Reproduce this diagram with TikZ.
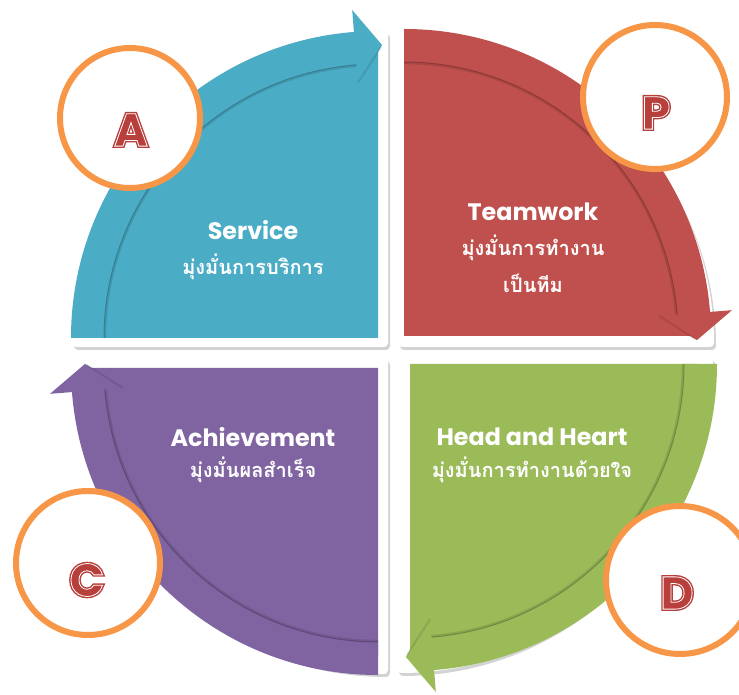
\documentclass[tikz,border=0pt]{standalone}
\usepackage{fontspec}
\newfontfamily\thaifont[Script=Thai]{Loma}
\newfontfamily\engfont{Poppins}
\newfontfamily\fatfont{Poppins}[FakeBold=8]
\usetikzlibrary{shadows}
\definecolor{cteal}{HTML}{4BACC6}
\definecolor{cred}{HTML}{C0504D}
\definecolor{cgreen}{HTML}{9BBB59}
\definecolor{cpurple}{HTML}{8064A2}
\definecolor{corange}{HTML}{F79646}
\definecolor{cletter}{HTML}{B8403C}
\newcommand\drawquad[3]{%
 \begin{scope}[shift={#1}, rotate=#2]
  \fill[#3] (0,0) -- (180:288) arc[start angle=180,end angle=90,radius=288] -- cycle;
  \fill[#3] (180:274) -- (180:307) arc[start angle=180,end angle=94.5,radius=307]
     -- (94.5:329) -- (89.2:293) -- (94.5:254) -- (94.5:274)
     arc[start angle=94.5,end angle=180,radius=274] -- cycle;
  \draw[black, opacity=0.12, line width=2.5pt] (180:273) arc[start angle=180,end angle=94.5,radius=273];
  \draw[black, opacity=0.18, line width=1pt] (180:274) arc[start angle=180,end angle=94.5,radius=274];
  \draw[black, opacity=0.10, line width=2pt] (94.5:256) -- (89.4:291);
 \end{scope}}
\newcommand\drawcard[2]{%
  \path[card] #1 -- ++(#2:316) arc[start angle=#2,end angle=#2+90,radius=316] -- cycle;}
\newcommand\whiteline[1]{\special{pdf:code 1 Tr 0.8 w}#1\special{pdf:code 0 Tr}}
\begin{document}
\begin{tikzpicture}[x=1pt,y=1pt,
  card/.style={fill=white, rounded corners=4pt,
    drop shadow={shadow xshift=2pt,shadow yshift=-3pt,opacity=0.35}},
  ring/.style={circle, draw=corange, line width=6pt, fill=white, inner sep=0pt},
  letter/.style={text=cletter, font=\fatfont\bfseries\fontsize{46}{50}\selectfont},
  letterin/.style={text=white, font=\engfont\bfseries\fontsize{46}{50}\selectfont},
  title/.style={text=white, font=\engfont\bfseries\fontsize{23.8}{28}\selectfont},
  thai/.style={text=white, font=\thaifont\bfseries\fontsize{20}{37}\selectfont, align=center}]
\useasboundingbox (0,0) rectangle (739,694);
\clip (0,0) rectangle (739,694);
% cards
\drawcard{(388,347)}{90}
\drawcard{(398,347)}{0}
\drawcard{(388,336)}{180}
\drawcard{(397,337)}{270}
% quadrants
\drawquad{(378,356)}{0}{cteal}
\drawquad{(404,358)}{-90}{cred}
\drawquad{(410,330)}{-180}{cgreen}
\drawquad{(378,326)}{-270}{cpurple}
% texts
\node[title] (t1) at (253,464) {Service};
\node[thai] (h1) at (253,427) {มุ่งมั่นการบริการ};
\node[title] (t2) at (533,482) {Teamwork};
\node[thai] (h2) at (533,430) {มุ่งมั่นการทำงาน\\เป็นทีม};
\node[title] (t3) at (253,257) {Achievement};
\node[thai] (h3) at (253,224) {มุ่งมั่นผลสำเร็จ};
\node[title] (t4) at (532,257) {Head and Heart};
\node[thai] (h4) at (532,224) {มุ่งมั่นการทำงานด้วยใจ};
% rings
\node[ring, minimum size=140pt] (ra) at (130,576) {};
\node[ring, minimum size=144pt] (rp) at (655,597) {};
\node[ring, minimum size=144pt] (rc) at (88,131) {};
\node[ring, minimum size=148pt] (rd) at (680,114) {};
\node[letter] (la) at (131,564) {A};
\node[letterin] (la2) at (131,564) {\whiteline{A}};
\node[letter] (lp) at (656,581) {P};
\node[letterin] (lp2) at (656,581) {\whiteline{P}};
\node[letter] (lc) at (87,114) {C};
\node[letterin] (lc2) at (87,114) {\whiteline{C}};
\node[letter] (ld) at (677,101) {D};
\node[letterin] (ld2) at (677,101) {\whiteline{D}};
\end{tikzpicture}
\end{document}
